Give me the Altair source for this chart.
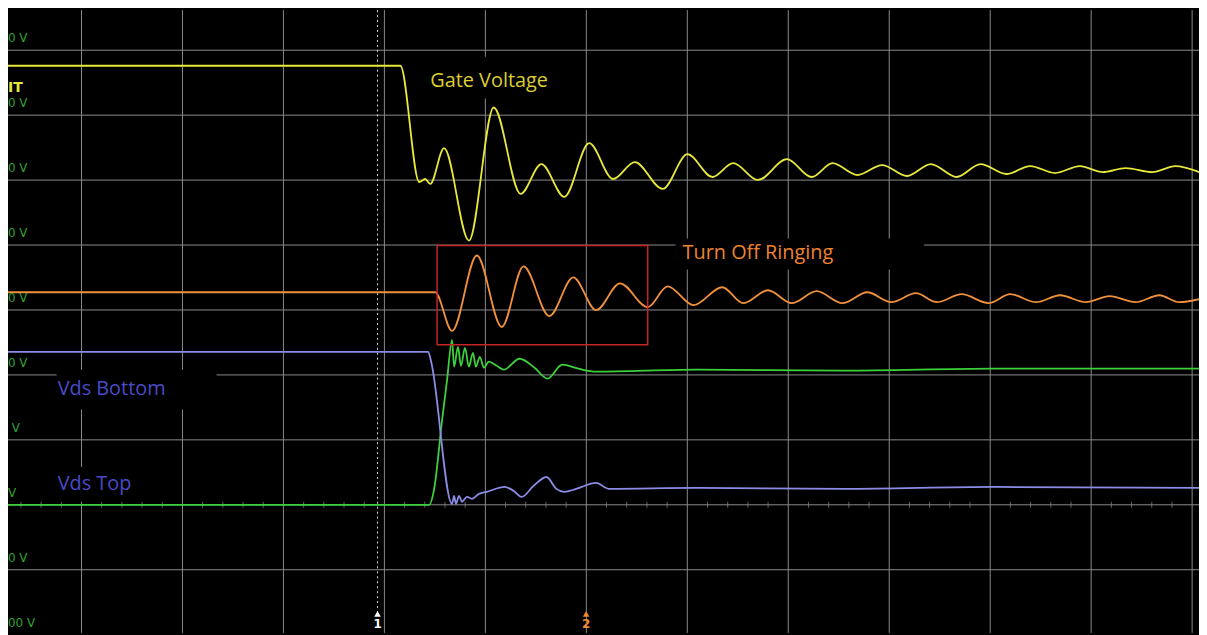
import altair as alt
import pandas as pd

# ---------- screen units: time in horizontal divisions, level in vertical divisions ----------
X_DOMAIN = [-0.728, 11.068]
Y_DOMAIN = [-1.973, 7.618]

grid_t = [0, 1, 2, 3, 4, 5, 6, 7, 8, 9, 10, 11]
grid_v = [-1, 0, 1, 2, 3, 4, 5, 6, 7]
minor_ticks = [round(k * 0.2, 1) for k in range(-3, 56) if k % 5 != 0]

# Gate voltage (yellow)
gate_t = [-0.728, 3.158, 3.345, 3.404, 3.454, 3.591, 3.837, 4.083, 4.349, 4.555, 4.782, 5.028,
          5.264, 5.480, 5.756, 6.002, 6.248, 6.454, 6.700, 6.986, 7.232, 7.438, 7.684, 7.930,
          8.176, 8.412, 8.668, 8.904, 9.160, 9.396, 9.642, 9.888, 10.114, 10.341, 10.606,
          10.833, 11.069]
gate_v = [6.761, 6.761, 4.971, 5.017, 4.941, 5.491, 4.069, 6.118, 4.788, 5.247, 4.742, 5.568,
          5.017, 5.277, 4.864, 5.399, 5.048, 5.262, 5.002, 5.323, 5.048, 5.262, 5.078, 5.231,
          5.063, 5.247, 5.048, 5.247, 5.094, 5.216, 5.109, 5.216, 5.124, 5.185, 5.124,
          5.216, 5.124]

# Turn-off ringing (orange)
ring_t = [-0.728, 3.503, 3.670, 3.916, 4.162, 4.378, 4.634, 4.870, 5.097, 5.333, 5.608, 5.805,
          6.061, 6.346, 6.553, 6.799, 7.035, 7.281, 7.537, 7.783, 8.019, 8.265, 8.471, 8.717,
          8.983, 9.199, 9.455, 9.692, 9.947, 10.183, 10.439, 10.676, 10.872, 11.069]
ring_v = [3.273, 3.273, 2.677, 3.839, 2.738, 3.671, 2.906, 3.503, 2.998, 3.411, 3.044, 3.365,
          3.074, 3.350, 3.105, 3.304, 3.105, 3.289, 3.105, 3.273, 3.120, 3.258, 3.120, 3.243,
          3.105, 3.243, 3.120, 3.227, 3.120, 3.212, 3.120, 3.227, 3.120, 3.166]

# Vds Top (green)
top_t = [-0.728, 3.444, 3.493, 3.572, 3.621, 3.670, 3.690, 3.729, 3.758, 3.798, 3.837, 3.877,
         3.906, 3.945, 3.985, 4.034, 4.113, 4.182, 4.339, 4.487, 4.615, 4.762, 4.920, 5.097,
         6.081, 7.556, 9.032, 11.069]
top_v = [0.0, 0.0, 0.245, 1.315, 1.927, 2.539, 2.126, 2.432, 2.141, 2.417, 2.126, 2.340,
         2.126, 2.279, 2.111, 2.203, 2.141, 2.080, 2.249, 2.111, 1.943, 2.157, 2.096, 2.050,
         2.080, 2.065, 2.096, 2.096]

# Vds Bottom (lavender)
bot_t = [-0.728, 3.434, 3.463, 3.670, 3.690, 3.709, 3.739, 3.768, 3.818, 3.867, 3.936, 4.014,
         4.191, 4.280, 4.359, 4.477, 4.605, 4.703, 4.782, 4.900, 5.097, 5.224, 6.081, 7.556,
         9.032, 11.069]
bot_v = [2.356, 2.356, 2.203, 0.015, 0.138, 0.015, 0.138, 0.046, 0.122, 0.092, 0.168, 0.199,
         0.275, 0.214, 0.122, 0.291, 0.428, 0.245, 0.199, 0.245, 0.337, 0.245, 0.260, 0.245,
         0.275, 0.260]

# channel offset labels on the left edge (cropped in the screenshot)
offset_labels = ["0 V", "0 V", "0 V", "0 V", "0 V", "0 V", "V", "V", "0 V", "00 V"]
offset_levels = [7, 6, 5, 4, 3, 2, 1, 0, -1, -2]
offset_x = [-0.728, -0.728, -0.728, -0.728, -0.728, -0.728, -0.69, -0.728, -0.728, -0.728]

# annotation text
ann_text = ["Gate Voltage", "Turn Off Ringing", "Vds Bottom", "Vds Top"]
ann_t = [3.454, 5.953, -0.236, -0.236]
ann_v = [6.532, 3.870, 1.790, 0.321]
ann_color = ["#dccf2e", "#ee8330", "#4a4ac8", "#4a4ac8"]

# black label backgrounds (hide the graticule)
box_t1 = [3.375, 5.884, -0.246, -0.246]
box_t2 = [4.851, 8.343, 1.338, 0.669]
box_v1 = [6.899, 4.099, 2.080, 0.581]
box_v2 = [6.256, 3.625, 1.468, 0.046]

# highlight rectangle
hl_t1, hl_t2, hl_v1, hl_v2 = [3.522], [5.608], [3.992], [2.463]

# trigger / cursor markers
marker_t = [2.932, 4.998]
marker_lbl = ["1", "2"]
marker_color = ["#ffffff", "#f08a30"]

xs = alt.Scale(domain=X_DOMAIN, nice=False, zero=False)
ys = alt.Scale(domain=Y_DOMAIN, nice=False, zero=False)


def X(f="t"):
    return alt.X(f"{f}:Q", scale=xs, axis=None)


def Y(f="v"):
    return alt.Y(f"{f}:Q", scale=ys, axis=None)


vgrid = alt.Chart(pd.DataFrame({"t": grid_t})).mark_rule(color="#8a8a8a", strokeWidth=1).encode(x=X())
hgrid = alt.Chart(pd.DataFrame({"v": grid_v})).mark_rule(color="#8a8a8a", strokeWidth=1).encode(y=Y())
ticks = alt.Chart(pd.DataFrame({"t": minor_ticks, "v": [0] * len(minor_ticks)})).mark_tick(
    orient="vertical", size=6, thickness=1, color="#8a8a8a").encode(x=X(), y=Y())

boxes = alt.Chart(pd.DataFrame({"t1": box_t1, "t2": box_t2, "v1": box_v1, "v2": box_v2})).mark_rect(
    color="black").encode(x=X("t1"), x2="t2:Q", y=Y("v1"), y2="v2:Q")

trig = alt.Chart(pd.DataFrame({"t": [marker_t[0]], "v1": [7.618], "v2": [-1.66]})).mark_rule(
    color="#dddddd", strokeDash=[2, 3], strokeWidth=1).encode(x=X(), y=Y("v1"), y2="v2:Q")


def trace(ts, vs, color):
    return alt.Chart(pd.DataFrame({"t": ts, "v": vs})).mark_line(
        color=color, strokeWidth=1.8, interpolate="monotone", clip=True).encode(x=X(), y=Y())


l_gate = trace(gate_t, gate_v, "#e8e83c")
l_ring = trace(ring_t, ring_v, "#f0903c")
l_top = trace(top_t, top_v, "#3cd03c")
l_bot = trace(bot_t, bot_v, "#8c8ce6")

offs = alt.Chart(pd.DataFrame({"t": offset_x, "v": offset_levels, "s": offset_labels})).mark_text(
    align="left", baseline="middle", dy=-12, fontSize=12, font="DejaVu Sans", color="#2fa52f").encode(
    x=X(), y=Y(), text="s:N")

it_lbl = alt.Chart(pd.DataFrame({"t": [-0.728], "v": [6.424], "s": ["IT"]})).mark_text(
    align="left", baseline="middle", fontSize=14, fontWeight="bold", font="DejaVu Sans",
    color="#e8e83c").encode(x=X(), y=Y(), text="s:N")

anns = alt.Chart(pd.DataFrame({"t": ann_t, "v": ann_v, "s": ann_text, "c": ann_color})).mark_text(
    align="left", baseline="middle", fontSize=20, font="Open Sans").encode(
    x=X(), y=Y(), text="s:N", color=alt.Color("c:N", scale=None))

hl = alt.Chart(pd.DataFrame({"t1": hl_t1, "t2": hl_t2, "v1": hl_v1, "v2": hl_v2})).mark_rect(
    fill=None, fillOpacity=0, stroke="#c42424", strokeWidth=1.5).encode(
    x=X("t1"), x2="t2:Q", y=Y("v1"), y2="v2:Q")

mk_df = pd.DataFrame({"t": marker_t, "v": [-1.68, -1.68], "s": marker_lbl, "c": marker_color})
mk_tri = alt.Chart(mk_df).mark_point(shape="triangle-up", filled=True, size=45, opacity=1).encode(
    x=X(), y=Y(), color=alt.Color("c:N", scale=None))
mk_txt = alt.Chart(mk_df).mark_text(baseline="middle", fontSize=12, fontWeight="bold", dy=10,
                                   font="DejaVu Sans").encode(
    x=X(), y=Y(), text="s:N", color=alt.Color("c:N", scale=None))

chart = alt.layer(
    vgrid, hgrid, ticks, boxes, trig, l_gate, l_ring, l_top, l_bot, offs, it_lbl, anns, hl, mk_tri, mk_txt
).properties(
    width=1199, height=627, padding=0, background="black",
    autosize=alt.AutoSizeParams(type="none")
).configure_view(stroke=None, fill="black")

chart.save("out.html", embed_options={"renderer": "svg", "actions": False})
